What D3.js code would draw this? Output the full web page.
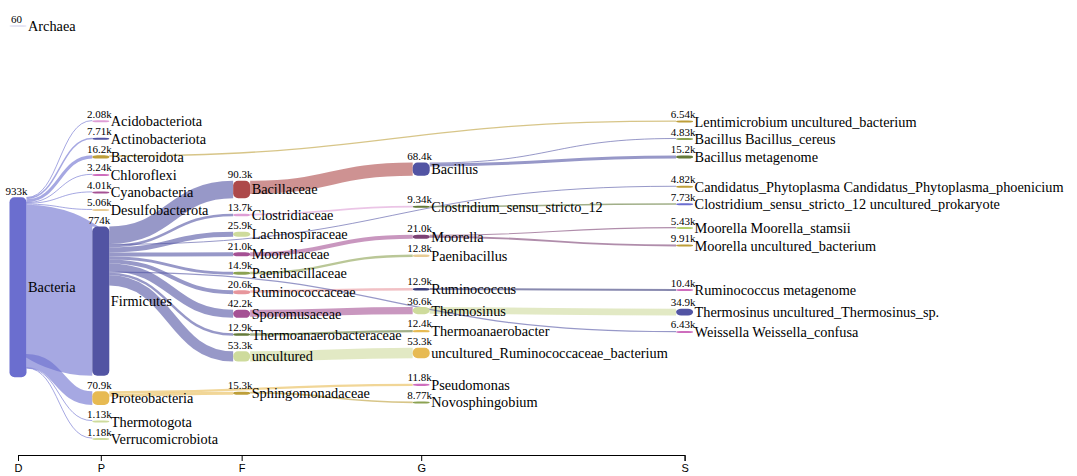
<!DOCTYPE html>
<html>
<head>
<meta charset="utf-8">
<script src="https://cdn.jsdelivr.net/npm/d3@7"></script>
<style>
  body { margin: 0; background: #fff; }
  svg { display: block; }
</style>
</head>
<body>
<div id="chart"></div>
<script>
// taxonomic ranks shown on the axis
const ranks = ["D", "P", "F", "G", "S"];

// nodes: name, rank, clade reads, parent taxon
const nodeNames = [
  "Archaea", "Bacteria",
  "Acidobacteriota", "Actinobacteriota", "Bacteroidota", "Chloroflexi", "Cyanobacteria",
  "Desulfobacterota", "Firmicutes", "Proteobacteria", "Thermotogota", "Verrucomicrobiota",
  "Bacillaceae", "Clostridiaceae", "Lachnospiraceae", "Moorellaceae", "Paenibacillaceae",
  "Ruminococcaceae", "Sporomusaceae", "Thermoanaerobacteraceae", "uncultured", "Sphingomonadaceae",
  "Bacillus", "Clostridium_sensu_stricto_12", "Moorella", "Paenibacillus", "Ruminococcus",
  "Thermosinus", "Thermoanaerobacter", "uncultured_Ruminococcaceae_bacterium", "Pseudomonas", "Novosphingobium",
  "Lentimicrobium uncultured_bacterium", "Bacillus Bacillus_cereus", "Bacillus metagenome",
  "Candidatus_Phytoplasma Candidatus_Phytoplasma_phoenicium", "Clostridium_sensu_stricto_12 uncultured_prokaryote",
  "Moorella Moorella_stamsii", "Moorella uncultured_bacterium", "Ruminococcus metagenome",
  "Thermosinus uncultured_Thermosinus_sp.", "Weissella Weissella_confusa"
];
const nodeRanks = [
  "D", "D",
  "P", "P", "P", "P", "P", "P", "P", "P", "P", "P",
  "F", "F", "F", "F", "F", "F", "F", "F", "F", "F",
  "G", "G", "G", "G", "G", "G", "G", "G", "G", "G",
  "S", "S", "S", "S", "S", "S", "S", "S", "S", "S"
];
const nodeValues = [
  60, 933000,
  2080, 7710, 16200, 3240, 4010, 5060, 774000, 70900, 1130, 1180,
  90300, 13700, 25900, 21000, 14900, 20600, 42200, 12900, 53300, 15300,
  68400, 9340, 21000, 12800, 12900, 36600, 12400, 53300, 11800, 8770,
  6540, 4830, 15200, 4820, 7730, 5430, 9910, 10400, 34900, 6430
];
const nodeParents = [
  null, null,
  "Bacteria", "Bacteria", "Bacteria", "Bacteria", "Bacteria",
  "Bacteria", "Bacteria", "Bacteria", "Bacteria", "Bacteria",
  "Firmicutes", "Firmicutes", "Firmicutes", "Firmicutes", "Firmicutes",
  "Firmicutes", "Firmicutes", "Firmicutes", "Firmicutes", "Proteobacteria",
  "Bacillaceae", "Clostridiaceae", "Moorellaceae", "Paenibacillaceae", "Ruminococcaceae",
  "Sporomusaceae", "Thermoanaerobacteraceae", "uncultured", "Proteobacteria", "Sphingomonadaceae",
  "Bacteroidota", "Bacillus", "Bacillus",
  "Firmicutes", "Clostridium_sensu_stricto_12",
  "Moorella", "Moorella", "Ruminococcus",
  "Thermosinus", "Firmicutes"
];

// node colours (category20b tones)
const colorOf = {
  "Archaea": "#e4e4f4", "Bacteria": "#6b6ecf",
  "Acidobacteriota": "#de9ed6", "Actinobacteriota": "#5254a3", "Bacteroidota": "#bd9e39",
  "Chloroflexi": "#ce6dbd", "Cyanobacteria": "#a55194", "Desulfobacterota": "#e7cb94",
  "Firmicutes": "#5254a3", "Proteobacteria": "#e7ba52", "Thermotogota": "#cedb9c", "Verrucomicrobiota": "#cedb9c",
  "Bacillaceae": "#ad494a", "Clostridiaceae": "#de9ed6", "Lachnospiraceae": "#cedb9c",
  "Moorellaceae": "#a55194", "Paenibacillaceae": "#8ca252", "Ruminococcaceae": "#e7969c",
  "Sporomusaceae": "#a55194", "Thermoanaerobacteraceae": "#637939", "uncultured": "#cedb9c",
  "Sphingomonadaceae": "#bd9e39",
  "Bacillus": "#5254a3", "Clostridium_sensu_stricto_12": "#637939", "Moorella": "#7b4173",
  "Paenibacillus": "#e7cb94", "Ruminococcus": "#393b79", "Thermosinus": "#cedb9c",
  "Thermoanaerobacter": "#e7ba52", "uncultured_Ruminococcaceae_bacterium": "#e7ba52",
  "Pseudomonas": "#ce6dbd", "Novosphingobium": "#8ca252",
  "Lentimicrobium uncultured_bacterium": "#bd9e39", "Bacillus Bacillus_cereus": "#8ca252",
  "Bacillus metagenome": "#637939", "Candidatus_Phytoplasma Candidatus_Phytoplasma_phoenicium": "#bd9e39",
  "Clostridium_sensu_stricto_12 uncultured_prokaryote": "#6b6ecf", "Moorella Moorella_stamsii": "#b5cf6b",
  "Moorella uncultured_bacterium": "#bd9e39", "Ruminococcus metagenome": "#ce6dbd",
  "Thermosinus uncultured_Thermosinus_sp.": "#5254a3", "Weissella Weissella_confusa": "#ce6dbd"
};

const width = 1077, height = 476;
const nodeWidth = 17, nodePadding = 15.5, minNodeHeight = 2;
const extentTop = 25, extentBottom = 440;
const axisY = 455;
const iterations = 3, relaxStep = 0.5;

const svg = d3.select("#chart").append("svg")
    .attr("width", width)
    .attr("height", height);

// build graph
const nodes = nodeNames.map((name, i) => ({
  name: name,
  rank: nodeRanks[i],
  layer: ranks.indexOf(nodeRanks[i]),
  value: nodeValues[i],
  sourceLinks: [],
  targetLinks: []
}));
const byName = new Map(nodes.map(d => [d.name, d]));
const links = [];
nodes.forEach((d, i) => {
  if (nodeParents[i] == null) return;
  const src = byName.get(nodeParents[i]);
  const link = {source: src, target: d, value: d.value};
  src.sourceLinks.push(link);
  d.targetLinks.push(link);
  links.push(link);
});

// node thickness scale
const ky = d3.scaleLinear().domain([0, d3.max(nodeValues)]).range([0, 180]);
links.forEach(l => l.width = ky(l.value));

// column x positions spaced by the longest label (in characters) of the previous column
const columns = d3.range(ranks.length).map(k => nodes.filter(d => d.layer === k));
const colX = [9.5 + nodeWidth / 2];
for (let k = 1; k < columns.length; k++) {
  const maxChars = d3.max(columns[k - 1], d => d.name.length);
  colX.push(colX[k - 1] + maxChars * 6.45 + 31.2);
}
const x = d3.scaleLinear().domain(d3.range(ranks.length)).range(colX);

nodes.forEach(d => {
  d.x0 = x(d.layer) - nodeWidth / 2;
  d.x1 = d.x0 + nodeWidth;
  d.h = Math.max(minNodeHeight, ky(d.value));
});

// initial placement: stacked, then leftover space spread between linked nodes
columns.forEach(col => {
  let y = extentTop;
  col.forEach(d => { d.y0 = y; d.y1 = y + d.h; y = d.y1 + nodePadding; });
  const gap = (extentBottom - y + nodePadding) / (col.length + 1);
  col.forEach((d, i) => {
    if (!d.sourceLinks.length && !d.targetLinks.length) return;
    d.y0 += gap * (i + 1);
    d.y1 += gap * (i + 1);
  });
});

const center = d => (d.y0 + d.y1) / 2;

function collideDown(col, y, i, alpha) {
  for (; i < col.length; ++i) {
    const d = col[i];
    const dy = (y - d.y0) * alpha;
    if (dy > 1e-6) { d.y0 += dy; d.y1 += dy; }
    y = d.y1 + nodePadding;
  }
}
function collideUp(col, y, i, alpha) {
  for (; i >= 0; --i) {
    const d = col[i];
    const dy = (d.y1 - y) * alpha;
    if (dy > 1e-6) { d.y0 -= dy; d.y1 -= dy; }
    y = d.y0 - nodePadding;
  }
}
function resolveCollisions(col, alpha) {
  const i = col.length >> 1;
  const subject = col[i];
  collideUp(col, subject.y0 - nodePadding, i - 1, alpha);
  collideDown(col, subject.y1 + nodePadding, i + 1, alpha);
  collideUp(col, extentBottom, col.length - 1, alpha);
  collideDown(col, extentTop, 0, alpha);
}

// move each node part way toward the value-weighted centre of its neighbours
function relax(d, linksOf, other, alpha) {
  const ls = linksOf(d);
  if (!ls.length) return;
  const y = d3.sum(ls, l => center(other(l)) * l.value) / d3.sum(ls, l => l.value);
  const dy = (y - center(d)) * alpha * relaxStep;
  d.y0 += dy; d.y1 += dy;
}

for (let i = 0; i < iterations; i++) {
  const alpha = Math.pow(0.99, i);
  const beta = Math.max(1 - alpha, (i + 1) / iterations);
  for (let k = columns.length - 2; k >= 0; k--) {
    columns[k].forEach(d => relax(d, n => n.sourceLinks, l => l.target, alpha));
    resolveCollisions(columns[k], beta);
  }
  for (let k = 1; k < columns.length; k++) {
    columns[k].forEach(d => relax(d, n => n.targetLinks, l => l.source, alpha));
    resolveCollisions(columns[k], beta);
  }
}

// link breadths, stacked from each node's top
nodes.forEach(d => {
  d.sourceLinks.sort((a, b) => a.target.y0 - b.target.y0);
  d.targetLinks.sort((a, b) => a.source.y0 - b.source.y0);
});
nodes.forEach(d => {
  let y0 = d.y0, y1 = d.y0;
  d.sourceLinks.forEach(l => { l.y0 = y0 + l.width / 2; y0 += l.width; });
  d.targetLinks.forEach(l => { l.y1 = y1 + l.width / 2; y1 += l.width; });
});

// links
const linkPath = d3.linkHorizontal()
    .source(d => [d.source.x1, d.y0])
    .target(d => [d.target.x0, d.y1]);

svg.append("g")
    .attr("fill", "none")
    .selectAll("path")
    .data(links)
    .join("path")
    .attr("d", linkPath)
    .attr("stroke", d => colorOf[d.source.name])
    .attr("stroke-opacity", 0.6)
    .attr("stroke-width", d => Math.max(1, d.width));

// nodes
svg.append("g")
    .selectAll("rect")
    .data(nodes)
    .join("rect")
    .attr("x", d => d.x0)
    .attr("y", d => d.y0)
    .attr("width", nodeWidth)
    .attr("height", d => d.y1 - d.y0)
    .attr("rx", 5)
    .attr("fill", d => colorOf[d.name]);

// value labels above nodes
const fmt = v => v >= 1000 ? d3.format(".3s")(v) : d3.format("d")(v);
svg.append("g")
    .style("font-family", "'Liberation Serif', 'Times New Roman', serif")
    .style("font-size", "11px")
    .selectAll("text")
    .data(nodes)
    .join("text")
    .attr("x", d => (d.x0 + d.x1) / 2 - 1.5)
    .attr("y", d => d.y0 - 2.5)
    .attr("text-anchor", "middle")
    .text(d => fmt(d.value));

// name labels
svg.append("g")
    .style("font-family", "'Liberation Serif', 'Times New Roman', serif")
    .style("font-size", "14.3px")
    .selectAll("text")
    .data(nodes)
    .join("text")
    .attr("x", d => d.x1 + 1.5)
    .attr("y", d => center(d) + 5)
    .text(d => d.name);

// rank axis
const axis = svg.append("g")
    .attr("transform", "translate(0," + axisY + ")")
    .call(d3.axisBottom(x).tickValues(d3.range(ranks.length)).tickFormat(i => ranks[i]));
axis.selectAll("text")
    .style("font-family", "'Liberation Sans', Arial, sans-serif")
    .style("font-size", "11px");
</script>
</body>
</html>
